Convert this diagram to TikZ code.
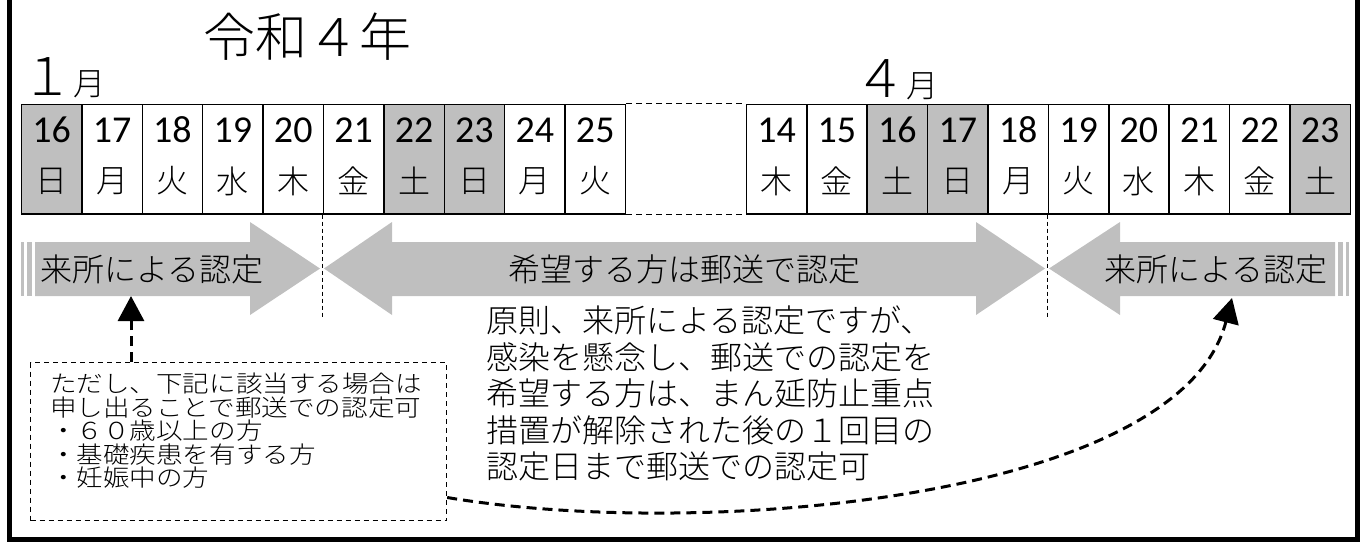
\documentclass[tikz,border=0pt]{standalone}
\usepackage{fontspec}
\usetikzlibrary{arrows.meta}
\newfontfamily\jp{Noto Sans CJK JP Light}
\newfontfamily\jpw{Noto Sans CJK JP Light}[FakeStretch=1.13]
\newfontfamily\nm{Carlito}
\definecolor{band}{HTML}{BFBFBF}
\lineskiplimit=-30pt
\tikzset{
	day/.style={
		draw,
		line width = 1.5pt,
		minimum width = 60.4pt,
		minimum height = 109.5pt,
		inner sep = 0pt,
		anchor = north west
	},
	num/.style={
		font = \nm\fontsize{38}{38}\selectfont,
		inner sep = 0pt
	},
	wd/.style={
		font = \jp\fontsize{32}{32}\selectfont,
		inner sep = 0pt
	},
	lbl/.style={
		font = \jp\fontsize{32}{32}\selectfont,
		inner sep = 0pt
	},
	para/.style={
		font = \jp\fontsize{32}{36.5}\selectfont,
		align = left,
		inner sep = 0pt,
		anchor = north west
	},
	memo/.style={
		font = \jpw\fontsize{23.5}{23.5}\selectfont,
		align = left,
		inner sep = 0pt,
		anchor = north west
	},
	guide/.style={
		line width = 1pt,
		dash pattern = on 4pt off 3pt
	},
	pointer/.style={
		->,
		line width = 3pt,
		dash pattern = on 10pt off 6pt
	},
}
\tikzset{>={Triangle[width=26pt,length=25pt]}}

\begin{document}
\begin{tikzpicture}[x=1pt, y=-1pt]
    \useasboundingbox (0,0) rectangle (1362,542);
    \draw[line width=4.5pt] (9.5,0) |- (1357.5,539.5) -- (1357.5,0);
    \node[inner sep=0pt, font=\jp\fontsize{52}{52}\selectfont] (year) at (307,37) {令和４年};
    \node[lbl, anchor=base west] (jan) at (21.5,95) {{\fontsize{52}{52}\selectfont １}月};
    \node[lbl, anchor=base west] (apr) at (854,97) {{\fontsize{52}{52}\selectfont ４}月};
    \foreach \d/\w/\c [count=\i from 0] in {16/日/band,17/月/white,18/火/white,19/水/white,20/木/white,21/金/white,22/土/band,23/日/band,24/月/white,25/火/white}{
      \node[day, fill=\c] (l\i) at ({20.7+60.4*\i},103.5) {};
      \node[num] (ln\i) at ([yshift=-26.5pt]l\i.north) {\d};
      \node[wd] (lw\i) at ([yshift=-77.5pt]l\i.north) {\w};
    }
    \foreach \d/\w/\c [count=\i from 0] in {14/木/white,15/金/white,16/土/band,17/日/band,18/月/white,19/火/white,20/水/white,21/木/white,22/金/white,23/土/band}{
      \node[day, fill=\c] (r\i) at ({745.6+60.4*\i},103.5) {};
      \node[num] (rn\i) at ([yshift=-26.5pt]r\i.north) {\d};
      \node[wd] (rw\i) at ([yshift=-77.5pt]r\i.north) {\w};
    }
    \draw[line width=1.5pt, dash pattern=on 6pt off 4pt] (l9.north east) -- (r0.north west);
    \draw[line width=1.5pt, dash pattern=on 6pt off 4pt] (l9.south east) -- (r0.south west);
    \draw[guide] (l5.south west) -- ++(0,102);
    \draw[guide] (r5.south west) -- ++(0,102);
    \fill[band] (21,242) rectangle (24,296);
    \fill[band] (27,242) rectangle (32,296);
    \fill[band] (35,242) -- (250,242) -- (250,222) -- (320,268.5) -- (250,315) -- (250,296) -- (35,296) -- cycle;
    \fill[band] (324,268.5) -- (392,222) -- (392,242) -- (976,242) -- (976,222) -- (1045,268.5)
      -- (976,315) -- (976,296) -- (392,296) -- (392,315) -- cycle;
    \fill[band] (1049,268.5) -- (1120,222) -- (1120,242) -- (1335,242) -- (1335,296) -- (1120,296) -- (1120,315) -- cycle;
    \fill[band] (1338,242) rectangle (1343,296);
    \fill[band] (1346,242) rectangle (1349,296);
    \node[lbl] (visitL) at (152,269) {来所による認定};
    \node[lbl] (post) at (684,269) {希望する方は郵送で認定};
    \node[lbl] (visitR) at (1216,269) {来所による認定};
    \node[para] (rule) at (486,306) {原則、来所による認定ですが、\\感染を懸念し、郵送での認定を\\希望する方は、まん延防止重点\\措置が解除された後の１回目の\\認定日まで郵送での認定可};
    \node[draw, line width=1.2pt, dash pattern=on 5pt off 4pt, minimum width=416pt, minimum height=158pt,
      inner sep=0pt, anchor=north west] (note) at (30,362) {};
    \node[memo] (notetext) at (50,373) {ただし、下記に該当する場合は\\申し出ることで郵送での認定可\\・６０歳以上の方\\・基礎疾患を有する方\\・妊娠中の方};
    \coordinate (tipL) at (131,296);
    \coordinate (tipR) at (1232,298);
    \draw[pointer] (note.north -| tipL) -- (tipL);
    \draw[pointer] (note.-15) .. controls (700,540) and (1180,500) .. (tipR);
  \end{tikzpicture}
\end{document}
